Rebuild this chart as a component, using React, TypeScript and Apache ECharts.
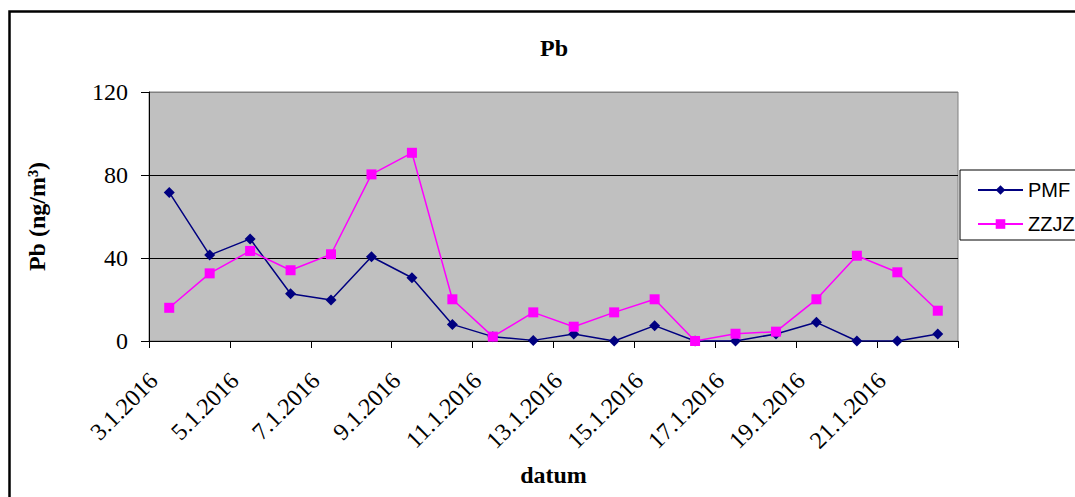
import React, { useEffect, useRef } from "react";
import * as echarts from "echarts";

const categories = [
  "3.1.2016", "4.1.2016", "5.1.2016", "6.1.2016", "7.1.2016",
  "8.1.2016", "9.1.2016", "10.1.2016", "11.1.2016", "12.1.2016",
  "13.1.2016", "14.1.2016", "15.1.2016", "16.1.2016", "17.1.2016",
  "18.1.2016", "19.1.2016", "20.1.2016", "21.1.2016", "22.1.2016",
];
const pmfValues = [71.6, 41.4, 49.2, 22.8, 19.8, 40.6, 30.5, 8.0, 2.1, 0.3, 3.4, 0, 7.4, 0, 0, 3.4, 9.0, 0, 0, 3.4];
const zzjzValues = [16.0, 32.6, 43.4, 34.1, 41.8, 80.3, 90.7, 20.1, 2.1, 13.8, 6.9, 13.8, 20.1, 0, 3.5, 4.5, 20.1, 41.1, 33.1, 14.6];
const seriesNames = ["PMF", "ZZJZ"];
const chartTitle = "Pb";
const yAxisTitle = "Pb (ng/m³)";
const xAxisTitle = "datum";

const SERIF = "'Liberation Serif', 'Times New Roman', serif";
const SANS = "'Liberation Sans', Arial, sans-serif";

export default function App() {
  const ref = useRef<HTMLDivElement>(null);
  useEffect(() => {
    if (!ref.current) return;
    const chart = echarts.init(ref.current, undefined, { renderer: "svg" });
    chart.setOption({
      animation: false,
      backgroundColor: "#ffffff",
      title: {
        text: chartTitle,
        left: 549,
        top: 31,
        textAlign: "center",
        textStyle: { fontFamily: SERIF, fontSize: 24, fontWeight: "bold", color: "#000" },
      },
      graphic: [
        {
          type: "rect",
          shape: { x: 9.5, y: 11.5, width: 3000, height: 3000 },
          style: { fill: "none", stroke: "#000", lineWidth: 2.5 },
          silent: true,
        },
      ],
      legend: {
        orient: "vertical",
        left: 960,
        top: 170,
        padding: [10, 40, 6, 17],
        itemGap: 14,
        itemWidth: 45,
        itemHeight: 12,
        borderColor: "#000",
        borderWidth: 1,
        backgroundColor: "#fff",
        textStyle: { fontFamily: SANS, fontSize: 20, color: "#000" },
        data: seriesNames,
      },
      grid: {
        left: 149,
        top: 92,
        right: 117,
        bottom: 156,
        show: true,
        backgroundColor: "#C0C0C0",
        borderColor: "#808080",
        borderWidth: 1,
      },
      xAxis: {
        type: "category",
        data: categories,
        boundaryGap: true,
        name: xAxisTitle,
        nameLocation: "middle",
        nameGap: 122,
        nameTextStyle: { fontFamily: SERIF, fontSize: 24, fontWeight: "bold", color: "#000" },
        axisLine: { show: true, lineStyle: { color: "#000", width: 1 } },
        axisTick: { show: true, interval: 1, length: 7, lineStyle: { color: "#000" } },
        axisLabel: {
          interval: 1,
          rotate: 45,
          margin: 20,
          padding: [0, 22, 0, 0],
          fontFamily: SERIF,
          fontSize: 24,
          color: "#000",
        },
        splitLine: { show: false },
      },
      yAxis: {
        type: "value",
        min: 0,
        max: 120,
        interval: 40,
        name: yAxisTitle,
        nameLocation: "middle",
        nameGap: 100,
        nameTextStyle: { fontFamily: SERIF, fontSize: 24, fontWeight: "bold", color: "#000" },
        axisLine: { show: true, lineStyle: { color: "#000", width: 1 } },
        axisTick: { show: true, length: 8, lineStyle: { color: "#000" } },
        axisLabel: { margin: 21, fontFamily: SERIF, fontSize: 24, color: "#000" },
        splitLine: { show: true, lineStyle: { color: ["#000", "#000", "#000", "#808080"], width: 1 } },
      },
      series: [
        {
          name: seriesNames[0],
          type: "line",
          data: pmfValues,
          symbol: "diamond",
          symbolSize: 11,
          itemStyle: { color: "#000080" },
          lineStyle: { color: "#000080", width: 1.5 },
        },
        {
          name: seriesNames[1],
          type: "line",
          data: zzjzValues,
          symbol: "rect",
          symbolSize: 10,
          itemStyle: { color: "#FF00FF" },
          lineStyle: { color: "#FF00FF", width: 1.5 },
        },
      ],
    });
    return () => chart.dispose();
  }, []);
  return (
    <div
      ref={ref}
      style={{ position: "fixed", left: 0, top: 0, width: 1075, height: 497 }}
    />
  );
}
